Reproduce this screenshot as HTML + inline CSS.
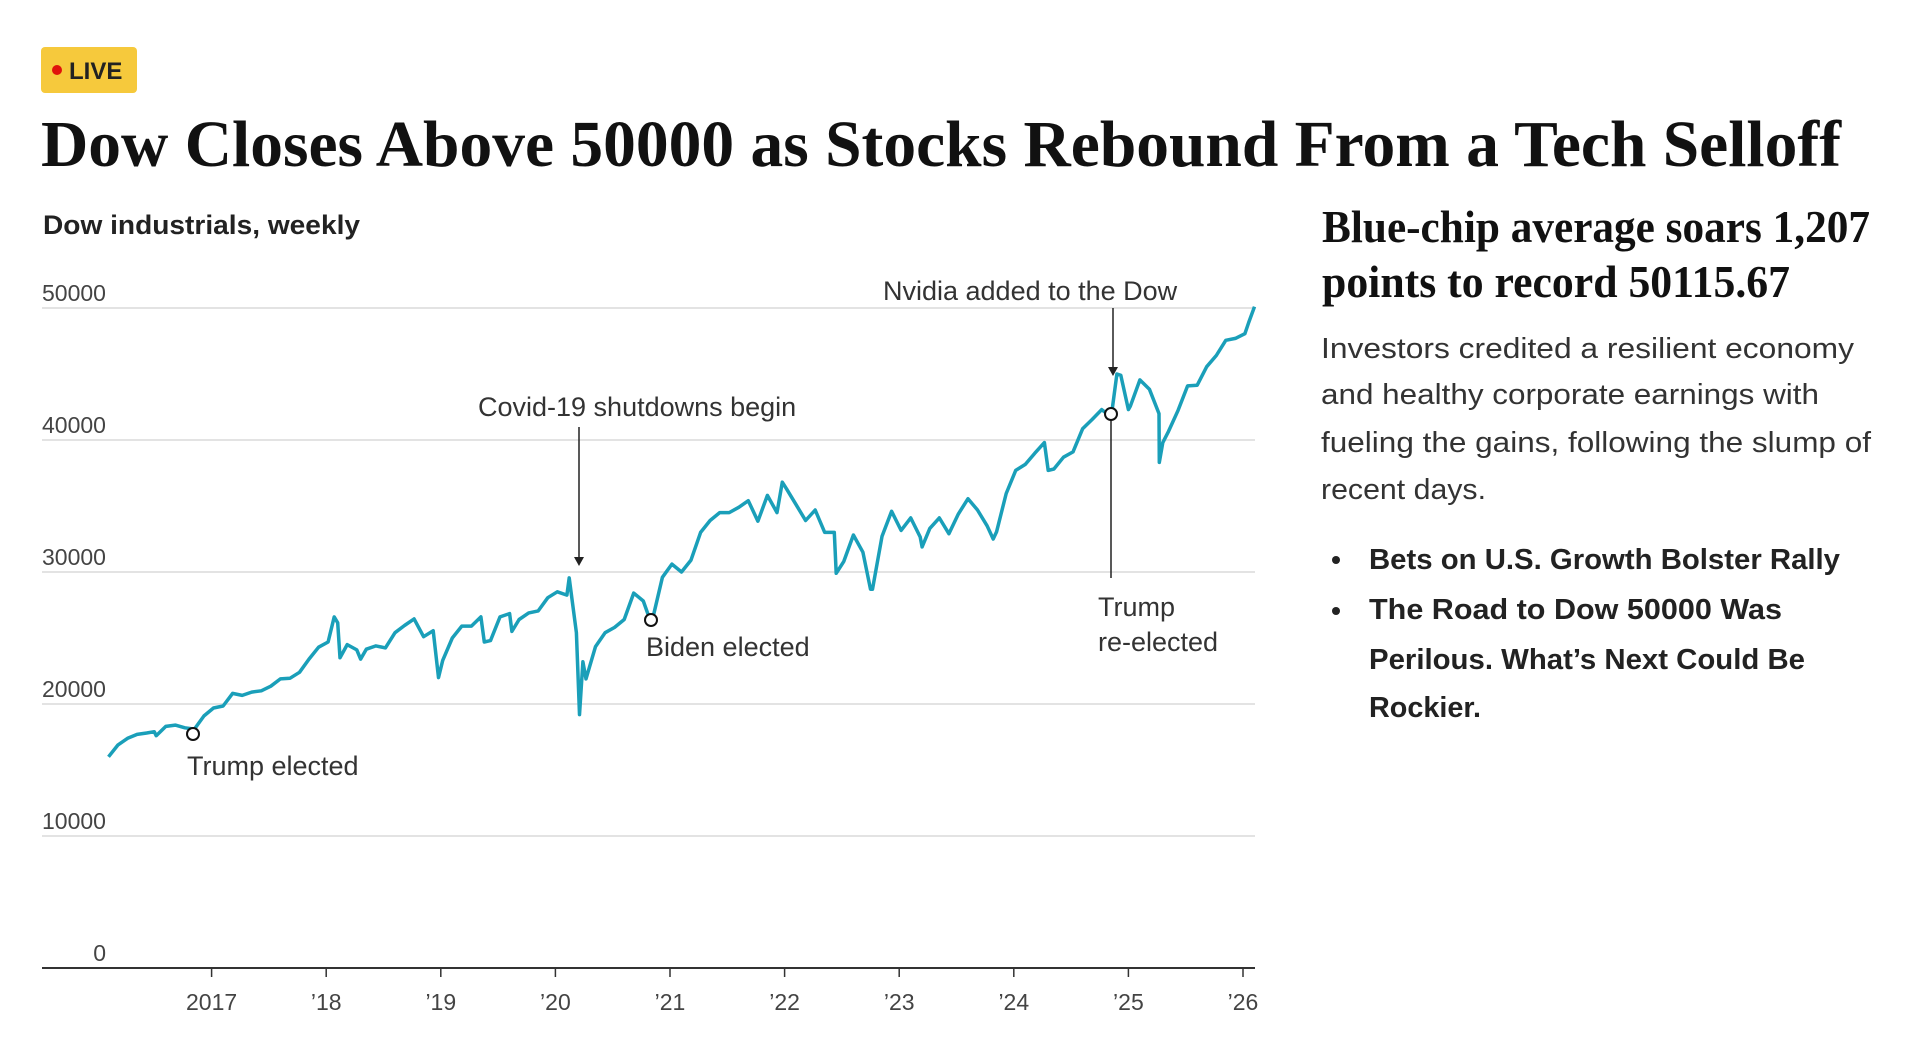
<!DOCTYPE html>
<html><head><meta charset="utf-8">
<style>
html,body{margin:0;padding:0;background:#fff;width:1918px;height:1046px;overflow:hidden}
svg{display:block}
.sans{font-family:"Liberation Sans","DejaVu Sans",sans-serif}
.serif{font-family:"Liberation Serif",serif}
</style></head>
<body>
<svg id="page" width="1918" height="1046" viewBox="0 0 1918 1046">
  <rect x="41" y="47" width="96" height="46" rx="4" fill="#f6c93c"/>
  <circle cx="57" cy="70" r="5" fill="#e0120b"/>
  <text x="69" y="79" class="sans" font-size="24" font-weight="bold" fill="#222">LIVE</text>
  <text x="41" y="166" class="serif" font-size="66" font-weight="bold" fill="#111" textLength="1800" lengthAdjust="spacingAndGlyphs">Dow Closes Above 50000 as Stocks Rebound From a Tech Selloff</text>

  <text x="43" y="234" class="sans" font-size="27" font-weight="bold" fill="#222" textLength="317" lengthAdjust="spacingAndGlyphs">Dow industrials, weekly</text>

  <g id="chart"></g>

  <text x="1322" y="242" class="serif" font-size="46" font-weight="bold" fill="#111" textLength="548" lengthAdjust="spacingAndGlyphs">Blue-chip average soars 1,207</text>
  <text x="1322" y="297" class="serif" font-size="46" font-weight="bold" fill="#111" textLength="468" lengthAdjust="spacingAndGlyphs">points to record 50115.67</text>

  <g class="sans" font-size="29" fill="#333">
    <text x="1321" y="358" textLength="533" lengthAdjust="spacingAndGlyphs">Investors credited a resilient economy</text>
    <text x="1321" y="404" textLength="498" lengthAdjust="spacingAndGlyphs">and healthy corporate earnings with</text>
    <text x="1321" y="452" textLength="550" lengthAdjust="spacingAndGlyphs">fueling the gains, following the slump of</text>
    <text x="1321" y="499" textLength="165" lengthAdjust="spacingAndGlyphs">recent days.</text>
  </g>

  <circle cx="1336" cy="560" r="4" fill="#222"/>
  <text x="1369" y="569" class="sans" font-size="29" font-weight="bold" fill="#222" textLength="471" lengthAdjust="spacingAndGlyphs">Bets on U.S. Growth Bolster Rally</text>
  <circle cx="1336" cy="611" r="4" fill="#222"/>
  <g class="sans" font-size="29" font-weight="bold" fill="#222">
    <text x="1369" y="619" textLength="413" lengthAdjust="spacingAndGlyphs">The Road to Dow 50000 Was</text>
    <text x="1369" y="669" textLength="436" lengthAdjust="spacingAndGlyphs">Perilous. What’s Next Could Be</text>
    <text x="1369" y="717" textLength="112" lengthAdjust="spacingAndGlyphs">Rockier.</text>
  </g>
</svg>
<script>
// ---- data ----
const yTicks = [0, 10000, 20000, 30000, 40000, 50000];
const xTickYears = [2017, 2018, 2019, 2020, 2021, 2022, 2023, 2024, 2025, 2026];
const xTickLabels = ["2017", "’18", "’19", "’20", "’21", "’22", "’23", "’24", "’25", "’26"];
const startYear = 2016.1;
// monthly closes from start
const monthlyValues = [
 16000,16900,17400,17700,17800,17600,18300,18400,18200,18100,19100,19700,
 19850,20800,20650,20900,21000,21350,21900,21950,22400,23400,24300,24700,
 26150,24500,24100,24150,24400,24250,25400,25950,26450,25100,25550,23300,
 25000,25900,25900,26600,24800,26600,26850,26400,26900,27050,28050,28500,
 28250,25400,21900,24350,25400,25800,26400,28400,27800,26500,29600,30600,
 30000,30900,33000,33900,34500,34500,34900,35400,33850,35800,34500,36300,
 35100,33900,34700,33000,33000,30800,32800,31500,28700,32700,34600,33150,
 34100,32650,33300,34100,32900,34400,35550,34700,33500,33050,35950,37700,
 38150,39000,39800,37800,38700,39100,40850,41550,42300,41750,44900,42550,
 44550,43850,42000,40650,42250,44100,44150,45550,46400,47550,47700,48050,
 50100
];
// weekly extremes
const extremeDates = [2016.5,2018.07,2018.12,2018.3,2018.98,2019.38,2019.62,2020.12,2020.21,2020.24,2020.82,2021.98,2022.45,2022.75,2023.2,2023.82,2024.3,2024.9,2025.0,2025.27,2025.3,2026.05];
const extremeValues = [17900,26600,23500,23400,22000,24700,25500,29550,19200,23200,26500,36800,29900,28700,31900,32500,37700,45000,42300,38300,39800,48900];

// ---- scales ----
const X0=211.6, XPY=114.6, Y0=968, YP=(968-308)/50000;
const xs = t => X0 + (t-2017)*XPY;
const ys = v => Y0 - v*YP;
const NS="http://www.w3.org/2000/svg";
const chart=document.getElementById('chart');
function mk(tag, attrs, parent){const e=document.createElementNS(NS,tag);for(const k in attrs)e.setAttribute(k,attrs[k]);(parent||chart).appendChild(e);return e;}

yTicks.forEach(v=>{
  if(v>0){
    const g=mk('line',{x1:42,x2:1255,y1:ys(v),y2:ys(v),stroke:'#e3e3e3','stroke-width':2});
    
    
  }
  const t=mk('text',{x:v===0?106:42,y:ys(v)-7,'font-size':23,fill:'#444','text-anchor':v===0?'end':'start','class':'sans'});
  t.textContent=String(v);
  
  
});
const ax=mk('line',{x1:42,x2:1255,y1:Y0,y2:Y0,stroke:'#333','stroke-width':2});


xTickYears.forEach((yr,i)=>{
  const tk=mk('line',{x1:xs(yr),x2:xs(yr),y1:Y0,y2:Y0+9,stroke:'#333','stroke-width':1.5});
  
  
  const t=mk('text',{x:xs(yr),y:1010,'font-size':23,fill:'#444','text-anchor':'middle','class':'sans'});
  t.textContent=xTickLabels[i];
  
  
});

const pts=[];
monthlyValues.forEach((v,i)=>pts.push([startYear+i/12, v]));
extremeDates.forEach((d,i)=>pts.push([d,extremeValues[i]]));
pts.sort((a,b)=>a[0]-b[0]);
const d=pts.map((p,i)=>(i?'L':'M')+xs(p[0]).toFixed(1)+','+ys(p[1]).toFixed(1)).join(' ');
const line=mk('path',{d:d,fill:'none',stroke:'#1a9fb9','stroke-width':3.5,'stroke-linejoin':'round'});



function label(txt,x,y,name){const t=mk('text',{x:x,y:y,'font-size':27,fill:'#333','class':'sans'});t.textContent=txt;return t;}
function marker(x,y,name){const c=mk('circle',{cx:x,cy:y,r:6,fill:'#fff',stroke:'#111','stroke-width':2});}
function arrow(x,y1,y2,name){const g=mk('g',{});mk('line',{x1:x,x2:x,y1:y1,y2:y2-8,stroke:'#222','stroke-width':1.5},g);mk('path',{d:`M${x-5},${y2-9} L${x+5},${y2-9} L${x},${y2} Z`,fill:'#222'},g);}

label('Nvidia added to the Dow',883,300,'nvidia-annotation');
arrow(1113,308,376,'nvidia-arrow');
label('Covid-19 shutdowns begin',478,416,'covid-annotation');
arrow(579,427,566,'covid-arrow');
marker(193,734,'trump-elected-marker');
label('Trump elected',187,775,'trump-elected-label');
marker(651,620,'biden-elected-marker');
label('Biden elected',646,656,'biden-elected-label');
const rl=mk('line',{x1:1111,x2:1111,y1:420,y2:578,stroke:'#222','stroke-width':1.5});


marker(1111,414,'trump-reelected-marker');
label('Trump',1098,616,'trump-reelected-label-1');
label('re-elected',1098,651,'trump-reelected-label-2');
</script>
</body></html>
